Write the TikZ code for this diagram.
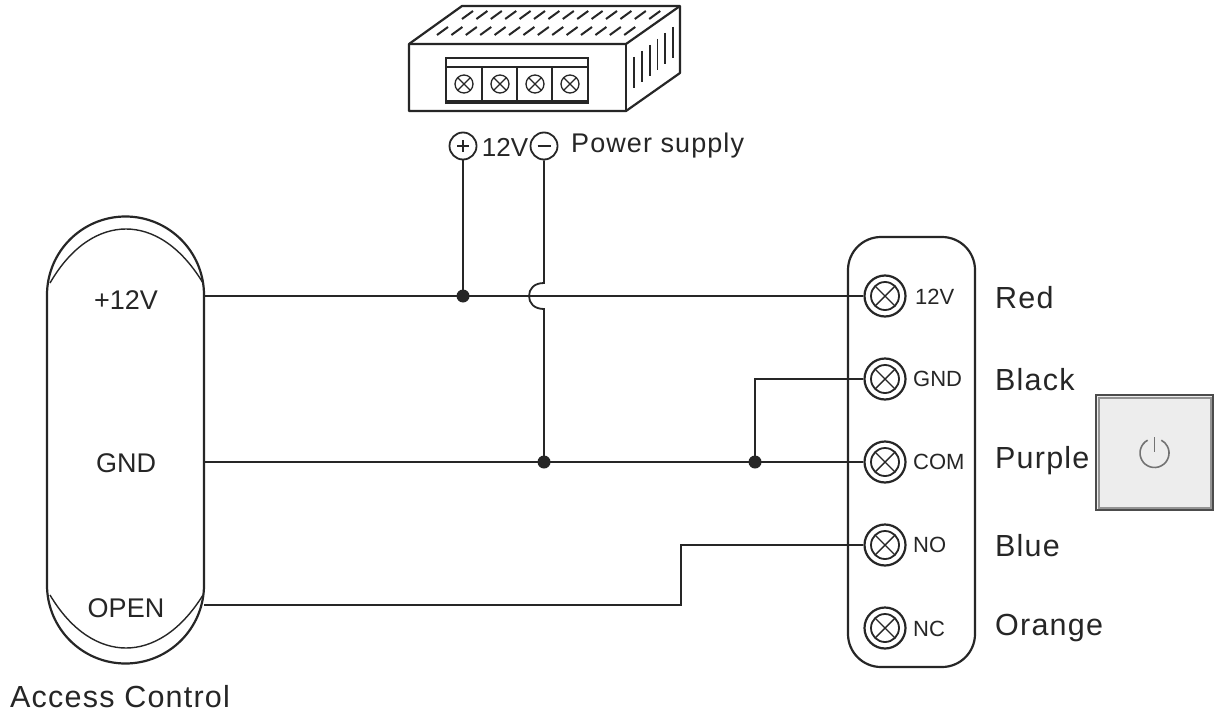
\documentclass[tikz,border=0pt]{standalone}
\usepackage{fontspec}
\setmainfont{Liberation Sans}
\newfontfamily\spaced[LetterSpace=4]{Liberation Sans}
\colorlet{ink}{black!85}
\tikzset{
  x=1pt,y=-1pt,
  wire/.style={draw=ink,line width=1.8pt},
  body/.style={draw=ink,line width=2.2pt},
  thin body/.style={draw=ink,line width=1.4pt},
  dot/.style={circle,fill=ink,inner sep=0pt,minimum size=13pt},
  terminal/.style={circle,draw=ink,line width=2.2pt,minimum size=41pt,inner sep=0pt,
    path picture={
      \draw[ink,line width=1.8pt] (path picture bounding box.center) circle (14pt);
      \draw[ink,line width=1.4pt] ([shift={(-10pt,-10pt)}]path picture bounding box.center) -- ([shift={(10pt,10pt)}]path picture bounding box.center);
      \draw[ink,line width=1.4pt] ([shift={(-10pt,10pt)}]path picture bounding box.center) -- ([shift={(10pt,-10pt)}]path picture bounding box.center);
    }},
  screw/.style={circle,draw=ink,line width=1.3pt,minimum size=18pt,inner sep=0pt,
    path picture={
      \draw[ink,line width=1.1pt] ([shift={(-6.5pt,-6.5pt)}]path picture bounding box.center) -- ([shift={(6.5pt,6.5pt)}]path picture bounding box.center);
      \draw[ink,line width=1.1pt] ([shift={(-6.5pt,6.5pt)}]path picture bounding box.center) -- ([shift={(6.5pt,-6.5pt)}]path picture bounding box.center);
    }},
  pole/.style={circle,draw=ink,line width=1.8pt,minimum size=27pt,inner sep=0pt},
  readerlabel/.style={text=ink,font=\fontsize{27}{27}\selectfont,inner sep=0pt},
  termlabel/.style={text=ink,font=\fontsize{22}{22}\selectfont,anchor=west,inner sep=0pt},
  colourlabel/.style={text=ink,font=\spaced\fontsize{30.5}{30.5}\selectfont,anchor=west,inner sep=0pt},
  button/.style={draw=black!70,line width=2.4pt,fill=black!7,minimum width=117pt,minimum height=115pt,inner sep=0pt},
}
\begin{document}
\begin{tikzpicture}
\useasboundingbox (0,0) rectangle (1215,717);
\fill[white] (0,0) rectangle (1215,717);

% power supply
\draw[body,line join=round] (409,44) -- (462,6) -- (680,6) -- (680,73) -- (626,111) -- (409,111) -- cycle;
\draw[body,line join=round] (409,44) -- (626,44) -- (680,6);
\draw[body] (626,44) -- (626,111);
\foreach \i in {0,...,13} {
  \draw[ink,line width=2pt] ({462+14.4*\i},19) -- ({473+14.4*\i},11);
  \draw[ink,line width=2pt] ({437+14.4*\i},35) -- ({448+14.4*\i},27);
}
\foreach \i in {0,...,5} \draw[ink,line width=1.8pt] ({634+7.8*\i},{57-6*\i}) -- ({634+7.8*\i},{88-6*\i});
\draw[thin body] (446,104) -- (446,58) -- (588,58) -- (588,104);
\draw[thin body] (446,67) -- (588,67);
\draw[ink,line width=3.5pt] (445,102) -- (589,102);
\foreach \x in {482,517,552} \draw[thin body] (\x,67) -- (\x,102);
\node[screw] (s1) at (464,84) {};
\node[screw] (s2) at (500,84) {};
\node[screw] (s3) at (535,84) {};
\node[screw] (s4) at (570,84) {};

% supply poles
\node[pole] (plus) at (463,146) {};
\draw[ink,line width=1.5pt] (457,146) -- (469,146) (463,140) -- (463,152);
\node[pole] (minus) at (544,146) {};
\draw[ink,line width=1.5pt] (537.5,146) -- (550.5,146);
\node[text=ink,font=\fontsize{26}{26}\selectfont,inner sep=0pt] (v12) at (505,147) {12V};
\node[text=ink,font=\spaced\fontsize{27}{27}\selectfont,anchor=west,inner sep=0pt] (ps) at (571,146) {Power supply};

% access control
\draw[body] (47,295) arc[start angle=180,end angle=360,radius=78.5] -- (204,585) arc[start angle=0,end angle=180,radius=78.5] -- cycle;
\draw[thin body] (50,283) .. controls (72,245) and (100,229) .. (126,229) .. controls (152,229) and (180,245) .. (203,283);
\draw[thin body] (50,595) .. controls (72,632) and (100,648) .. (126,648) .. controls (152,648) and (180,632) .. (203,595);
\coordinate (r12) at (204,296);
\coordinate (rgnd) at (204,462);
\coordinate (ropen) at (204,605);
\node[readerlabel] (l12) at (126,300) {+12V};
\node[readerlabel] (lgnd) at (126,463) {GND};
\node[readerlabel] (lopen) at (126,608) {OPEN};
\node[text=ink,font=\spaced\fontsize{30.5}{30.5}\selectfont,anchor=west,inner sep=0pt] (ac) at (10,697) {Access Control};

% terminal strip
\draw[body,rounded corners=33pt] (848,237) rectangle (975,667);
\node[terminal] (t12) at (885,296) {};
\node[terminal] (tgnd) at (885,379) {};
\node[terminal] (tcom) at (885,462) {};
\node[terminal] (tno) at (885,545) {};
\node[terminal] (tnc) at (885,628) {};
\node[termlabel] (n12) at (915,297) {12V};
\node[termlabel] (ngnd) at (913,379) {GND};
\node[termlabel] (ncom) at (913,462) {COM};
\node[termlabel] (nno) at (913,545) {NO};
\node[termlabel] (nnc) at (913,629) {NC};
\node[colourlabel] (c1) at (995,298) {Red};
\node[colourlabel] (c2) at (995,380) {Black};
\node[colourlabel] (c3) at (995,461) {Purple};
\node[colourlabel] (c4) at (995,546) {Blue};
\node[colourlabel] (c5) at (995,628) {Orange};

% button
\node[button] (btn) at (1154.5,452.5) {};
\draw[black!42,line width=2pt] (1098.5,397.5) rectangle (1210.5,507.5);
\draw[black!55,line width=1.6pt] (1147.7,440.2) arc[start angle=-118,end angle=-422,radius=14.5];
\draw[black!55,line width=1.6pt] (1154.5,437) -- (1154.5,452);

% wires
\coordinate (j1) at (463,296);
\coordinate (j2) at (544,462);
\coordinate (j3) at (755,462);
\coordinate (hopa) at (544,283);
\coordinate (hopb) at (544,309);
\draw[wire] (r12) -- (t12.west);
\draw[wire] (rgnd) -- (tcom.west);
\draw[wire] (plus.south) -- (j1);
\draw[wire] (minus.south) -- (hopa) .. controls (534,283) and (529,289) .. (529,296) .. controls (529,303) and (534,309) .. (hopb) -- (j2);
\draw[wire] (tgnd.west) -| (j3);
\draw[wire] (ropen) -- (681,605) |- (tno.west);
\node[dot] (d1) at (j1) {};
\node[dot] (d2) at (j2) {};
\node[dot] (d3) at (j3) {};
\end{tikzpicture}
\end{document}
